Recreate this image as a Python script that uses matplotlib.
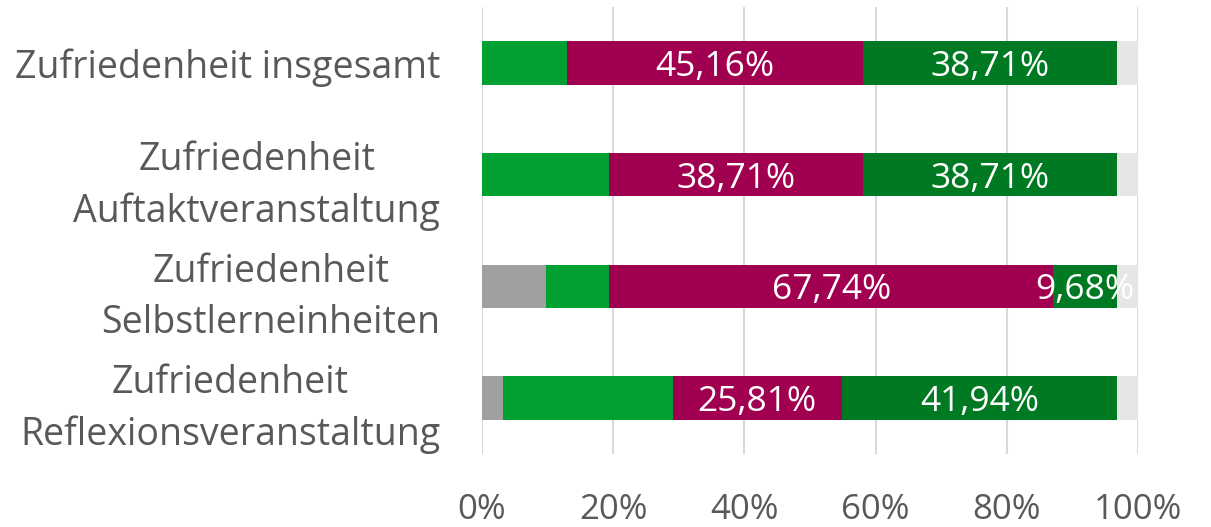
import matplotlib.pyplot as plt
import numpy as np

plt.rcParams['font.family'] = ['Open Sans', 'DejaVu Sans']

categories = ["Zufriedenheit insgesamt",
              "Zufriedenheit\nAuftaktveranstaltung",
              "Zufriedenheit\nSelbstlerneinheiten",
              "Zufriedenheit\nReflexionsveranstaltung"]

grey = [0.0, 0.0, 9.68, 3.23]
green = [12.90, 19.35, 9.68, 25.81]
magenta = [45.16, 38.71, 67.74, 25.81]
dark_green = [38.71, 38.71, 9.68, 41.94]
rest = [3.23, 3.23, 3.23, 3.23]

series = [
    (grey, "#A0A0A0", False),
    (green, "#00A032", False),
    (magenta, "#A0004F", True),
    (dark_green, "#007A22", True),
    (rest, "#E6E6E4", False),
]

fig = plt.figure(figsize=(12.11, 5.27), dpi=100)
ax = fig.add_axes([482 / 1211, 1 - 454 / 527, (1138 - 482) / 1211, 447 / 527])

y = np.arange(len(categories))
left = np.zeros(len(categories))
for vals, col, labelled in series:
    vals = np.array(vals)
    bars = ax.barh(y, vals, left=left, height=0.39, color=col, zorder=2)
    if labelled:
        for b, v in zip(bars, vals):
            if v > 0:
                ax.text(b.get_x() + b.get_width() / 2, b.get_y() + b.get_height() / 2,
                        f"{v:.2f}%".replace(".", ","), ha="center", va="center_baseline",
                        color="white", fontsize=25.5, zorder=3)
    left += vals

ax.set_xlim(0, 100)
ax.set_ylim(3.5, -0.5)
ax.set_xticks(np.arange(0, 101, 20))
ax.set_xticklabels([f"{v}%" for v in range(0, 101, 20)])
ax.set_yticks(y)
ax.set_yticklabels(categories, multialignment="center", linespacing=1.45)
ax.tick_params(axis="x", length=0, pad=28, labelsize=25, labelcolor="#595959")
ax.tick_params(axis="y", length=0, pad=30, labelsize=27, labelcolor="#595959")
ax.grid(axis="x", color="#D9D9D9", linewidth=1.5, zorder=0)
for s in ax.spines.values():
    s.set_visible(False)

fig.savefig("out.png", dpi=100)
